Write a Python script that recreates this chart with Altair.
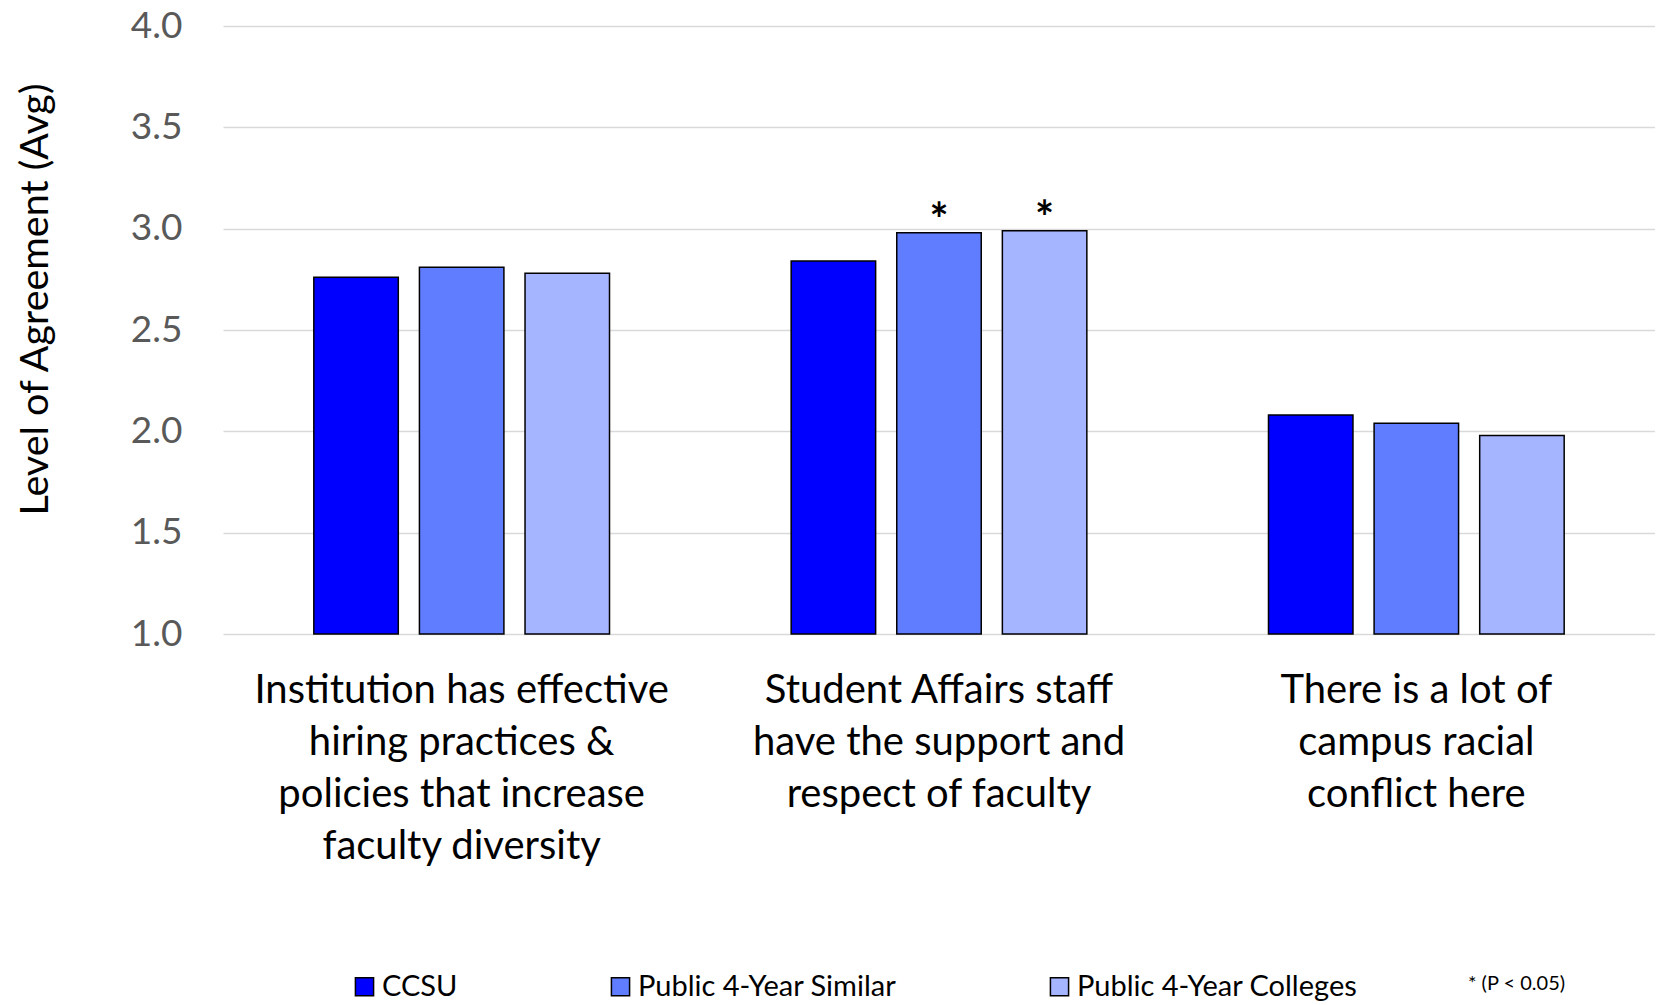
import altair as alt
import pandas as pd

categories = [
    "Institution has effective|hiring practices &|policies that increase|faculty diversity",
    "Student Affairs staff|have the support and|respect of faculty",
    "There is a lot of|campus racial|conflict here",
]
series = ["CCSU", "Public 4-Year Similar", "Public 4-Year Colleges"]
ccsu = [2.76, 2.84, 2.08]
similar = [2.81, 2.98, 2.04]
colleges = [2.78, 2.99, 1.98]
sig_ccsu = ["", "", ""]
sig_similar = ["", "*", ""]
sig_colleges = ["", "*", ""]
colors = ["#0000FF", "#607DFF", "#A6B5FF"]
note = "* (P < 0.05)"

rows = []
for s, vals, sig in zip(series, [ccsu, similar, colleges], [sig_ccsu, sig_similar, sig_colleges]):
    for c, v, g in zip(categories, vals, sig):
        rows.append({"category": c, "series": s, "value": v, "sig": g})
df = pd.DataFrame(rows)

FONT = "Lato"

x = alt.X("category:N", sort=categories,
          scale=alt.Scale(paddingInner=0, paddingOuter=0),
          axis=alt.Axis(title=None, labelAngle=0, ticks=False, domain=False,
                        labelFontSize=40, labelColor="#000000", labelFont=FONT,
                        labelLineHeight=52, labelPadding=36, labelLimit=600,
                        labelExpr="split(datum.label, '|')"))
xo = alt.XOffset("series:N", sort=series,
                 scale=alt.Scale(paddingInner=0.2, paddingOuter=0.86))
y = alt.Y("value:Q", scale=alt.Scale(domain=[1, 4], nice=False, zero=False),
          axis=alt.Axis(title="Level of Agreement (Avg)", values=[1, 1.5, 2, 2.5, 3, 3.5, 4],
                        format=".1f", ticks=False, domain=False,
                        gridColor="#D9D9D9", gridWidth=1.5,
                        labelFontSize=37, labelColor="#595959", labelFont=FONT,
                        labelPadding=41,
                        titleFontSize=39.5, titleFont=FONT, titleColor="#000000",
                        titleFontWeight="normal", titleX=-188, titleY=273,
                        titleAngle=-90, titleBaseline="middle", titleAlign="center"))

bars = alt.Chart(df).mark_bar(stroke="#000000", strokeWidth=1.5).encode(
    x=x, xOffset=xo, y=y,
    y2=alt.datum(1),
    color=alt.Color("series:N", sort=series,
                    scale=alt.Scale(domain=series, range=colors),
                    legend=alt.Legend(title=None, orient="none", legendX=127, legendY=946,
                                      direction="horizontal", symbolType="square",
                                      symbolSize=330, symbolStrokeColor="#000000",
                                      symbolStrokeWidth=1.5, labelFontSize=29,
                                      labelFont=FONT, labelColor="#000000",
                                      labelOffset=3, columnPadding=148,
                                      labelLimit=500)),
)

stars = alt.Chart(df).mark_text(fontSize=45, fontWeight="bold", baseline="alphabetic",
                                dy=3, color="#000000", font=FONT).encode(
    x=x, xOffset=xo, y=y, text="sig:N"
)

note_layer = alt.Chart(pd.DataFrame({"t": [note]})).mark_text(
    fontSize=20, font=FONT, align="left", baseline="middle", color="#000000"
).encode(x=alt.value(1245), y=alt.value(958), text="t:N")

chart = alt.layer(bars, stars, note_layer).properties(
    width=1432, height=608,
    padding={"left": 215, "top": 18, "right": 0, "bottom": 370},
    autosize=alt.AutoSizeParams(type="none"),
).configure_view(stroke=None)

chart.save("out.html", embed_options={"renderer": "svg", "actions": False})
